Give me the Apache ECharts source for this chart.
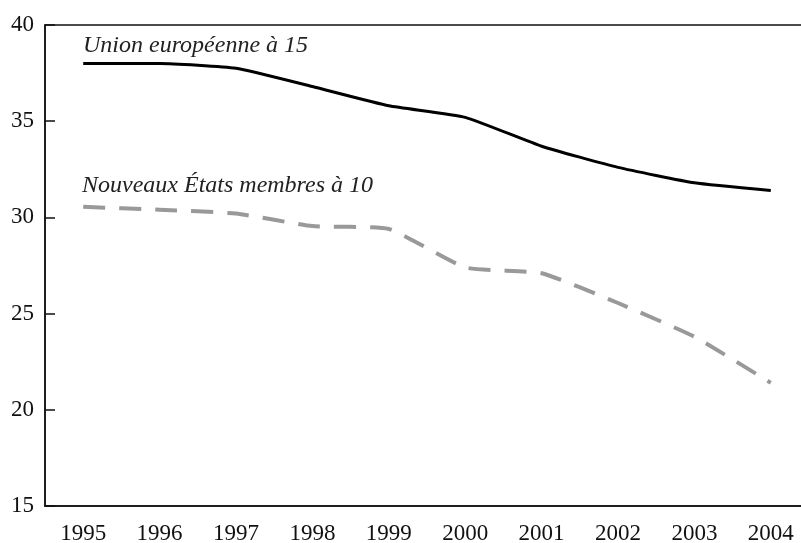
<!DOCTYPE html>
<html>
<head>
<meta charset="utf-8">
<script src="https://cdn.jsdelivr.net/npm/echarts@6/dist/echarts.min.js"></script>
<style>html,body{margin:0;padding:0;background:#fff}#c{width:801px;height:543px}</style>
</head>
<body>
<div id="c"></div>
<script>
const years = ['1995','1996','1997','1998','1999','2000','2001','2002','2003','2004'];
const eu15 = [38.0, 38.0, 37.75, 36.8, 35.8, 35.2, 33.7, 32.6, 31.8, 31.4];
const nms10 = [30.55, 30.4, 30.2, 29.55, 29.4, 27.4, 27.1, 25.55, 23.8, 21.4];
const yTicks = { min: 15, max: 40, interval: 5 };
const labelEU = 'Union européenne à 15';
const labelNMS = 'Nouveaux États membres à 10';

const chart = echarts.init(document.getElementById('c'), null, { renderer: 'canvas' });
const serif = '"Liberation Serif", "DejaVu Serif", serif';
chart.setOption({
  animation: false,
  backgroundColor: '#fff',
  grid: { left: 45, width: 764, top: 25, height: 481, outerBoundsMode: 'none', containLabel: false,
          show: true, borderColor: '#111', borderWidth: 1.5, backgroundColor: 'transparent' },
  xAxis: {
    type: 'category', data: years, boundaryGap: true,
    axisLine: { lineStyle: { color: '#111', width: 1.5 } },
    axisTick: { inside: true, length: 12, lineStyle: { color: '#111', width: 1.5 } },
    axisLabel: { color: '#111', fontFamily: serif, fontSize: 23, margin: 16 },
    splitLine: { show: false }
  },
  yAxis: {
    type: 'value', min: yTicks.min, max: yTicks.max, interval: yTicks.interval,
    axisLine: { show: true, lineStyle: { color: '#111', width: 1.5 } },
    axisTick: { show: true, inside: true, length: 10, lineStyle: { color: '#111', width: 1.5 } },
    axisLabel: { color: '#111', fontFamily: serif, fontSize: 23, margin: 11 },
    splitLine: { show: false }
  },
  series: [
    { name: labelEU, type: 'line', data: eu15, symbol: 'none', smooth: 0.15,
      lineStyle: { color: '#000', width: 3 } },
    { name: labelNMS, type: 'line', data: nms10, symbol: 'none', smooth: 0.15,
      lineStyle: { color: '#999', width: 4, type: [22, 14] } }
  ],
  graphic: [
    { type: 'text', left: 83, top: 34, style: { text: labelEU, font: 'italic 24px ' + serif, fill: '#222' } },
    { type: 'text', left: 82, top: 174, style: { text: labelNMS, font: 'italic 24px ' + serif, fill: '#222' } }
  ]
});
</script>
</body>
</html>
